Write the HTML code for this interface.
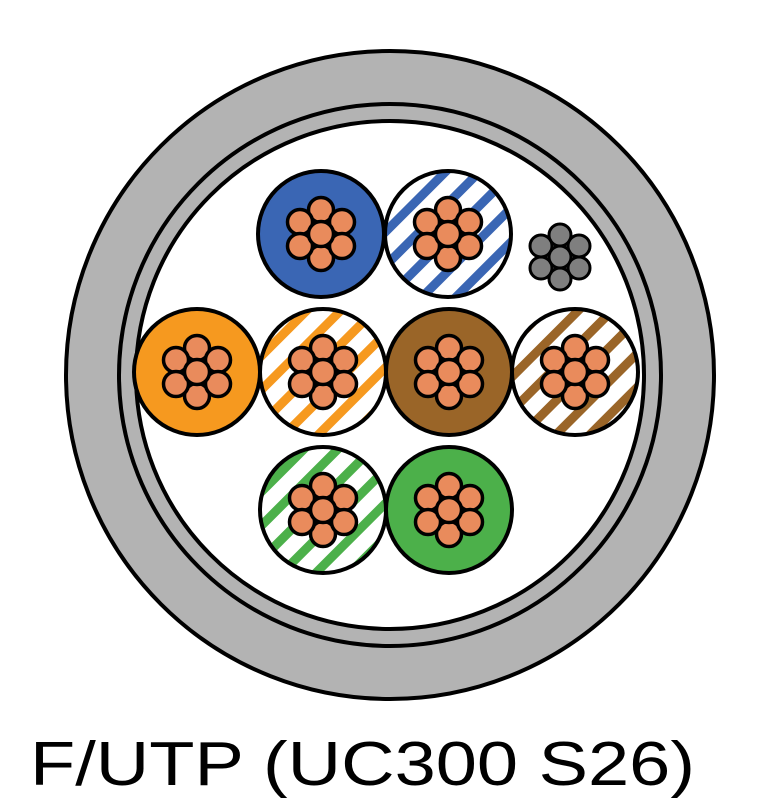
<!DOCTYPE html>
<html><head><style>html,body{margin:0;padding:0;background:#fff;width:780px;height:812px;overflow:hidden}</style></head>
<body>
<svg width="780" height="812" viewBox="0 0 780 812" xmlns="http://www.w3.org/2000/svg">
<defs>
<pattern id="pb" width="24" height="24" patternUnits="userSpaceOnUse" patternTransform="rotate(45)"><rect width="24" height="24" fill="#fff"/><rect width="9" height="24" fill="#3a66b4"/></pattern>
<pattern id="po" width="24" height="24" patternUnits="userSpaceOnUse" patternTransform="rotate(45)"><rect width="24" height="24" fill="#fff"/><rect width="9" height="24" fill="#f6991f"/></pattern>
<pattern id="pbr" width="24" height="24" patternUnits="userSpaceOnUse" patternTransform="rotate(45)"><rect width="24" height="24" fill="#fff"/><rect width="9" height="24" fill="#9a6528"/></pattern>
<pattern id="pg" width="24" height="24" patternUnits="userSpaceOnUse" patternTransform="rotate(45)"><rect width="24" height="24" fill="#fff"/><rect width="9" height="24" fill="#4cb04a"/></pattern>
<g id="c" stroke="#000" stroke-width="3.5" fill="#e98b5c">
<circle cx="0" cy="-24" r="12.5"/><circle cx="0" cy="24" r="12.5"/>
<circle cx="-21" cy="-12" r="12.5"/><circle cx="21" cy="-12" r="12.5"/>
<circle cx="-21" cy="12" r="12.5"/><circle cx="21" cy="12" r="12.5"/>
<circle cx="0" cy="0" r="12.5"/>
</g>
<g id="s" stroke="#000" stroke-width="3" fill="#7f7f7f">
<circle cx="0" cy="-22" r="11"/><circle cx="0" cy="22" r="11"/>
<circle cx="-19" cy="-11" r="11"/><circle cx="19" cy="-11" r="11"/>
<circle cx="-19" cy="11" r="11"/><circle cx="19" cy="11" r="11"/>
<circle cx="0" cy="0" r="11"/>
</g>
</defs>
<circle cx="390" cy="375" r="324" fill="#b3b3b3" stroke="#000" stroke-width="4"/>
<circle cx="390" cy="375" r="271" fill="#b3b3b3" stroke="#000" stroke-width="4"/>
<circle cx="390" cy="375" r="254" fill="#fff" stroke="#000" stroke-width="4"/>
<g stroke="#000" stroke-width="4">
<circle cx="321" cy="234" r="63" fill="#3a66b4"/>
<circle cx="448" cy="234" r="63" fill="url(#pb)"/>
<circle cx="197" cy="372" r="63" fill="#f6991f"/>
<circle cx="323" cy="372" r="63" fill="url(#po)"/>
<circle cx="449" cy="372" r="63" fill="#9a6528"/>
<circle cx="575" cy="372" r="63" fill="url(#pbr)"/>
<circle cx="323" cy="510" r="63" fill="url(#pg)"/>
<circle cx="449" cy="510" r="63" fill="#4cb04a"/>
</g>
<use href="#c" x="321" y="234"/><use href="#c" x="448" y="234"/>
<use href="#c" x="197" y="372"/><use href="#c" x="323" y="372"/>
<use href="#c" x="449" y="372"/><use href="#c" x="575" y="372"/>
<use href="#c" x="323" y="510"/><use href="#c" x="449" y="510"/>
<use href="#s" x="560" y="257"/>
<text x="30" y="785" font-family="Liberation Sans, sans-serif" font-size="62" fill="#000" textLength="665" lengthAdjust="spacingAndGlyphs">F/UTP (UC300 S26)</text>
</svg>
</body></html>
